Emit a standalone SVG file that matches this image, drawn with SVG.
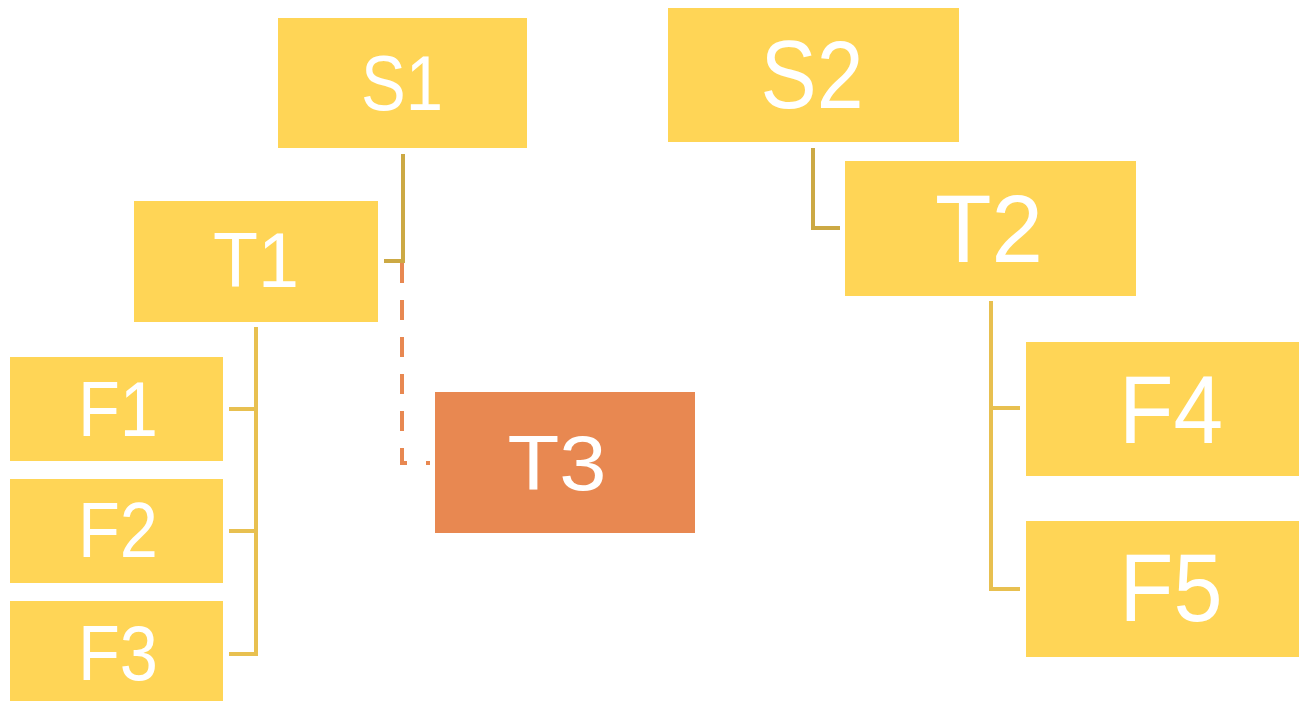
<svg xmlns="http://www.w3.org/2000/svg" width="1300" height="701" viewBox="0 0 1300 701">
<style>
.box{fill:#FFD556}
.t3{fill:#E88851}
.lbl{font-family:"Liberation Sans",Arial,sans-serif;fill:#FFFFFF;text-anchor:middle}
.s{font-size:78px}
.b{font-size:96px}
.c1{fill:none;stroke:#CCA944;stroke-width:4}
.c2{fill:none;stroke:#E8C050;stroke-width:4}
.c3{fill:none;stroke:#E88851;stroke-width:4;stroke-dasharray:20 17}
</style>
<g id="connectors">
<path class="c1" d="M403,154 V261 H384"/>
<path class="c3" d="M402,263 V463 H410"/>
<path class="c3" d="M426,463 H430" stroke-dasharray="none"/>
<path class="c1" d="M813,148 V228 H840"/>
<path class="c2" d="M256,327 V654 H229 M256,409 H229 M256,531 H229"/>
<path class="c2" d="M991,301 V589 H1020 M991,408 H1020"/>
</g>
<g id="S1"><rect class="box" x="278" y="18" width="249" height="130"/><text class="lbl s" x="402" y="110" textLength="82" lengthAdjust="spacingAndGlyphs">S1</text></g>
<g id="S2"><rect class="box" x="668" y="8" width="291" height="134"/><text class="lbl b" x="812" y="108" textLength="103" lengthAdjust="spacingAndGlyphs">S2</text></g>
<g id="T1"><rect class="box" x="134" y="201" width="244" height="121"/><text class="lbl s" x="256" y="287" textLength="86" lengthAdjust="spacingAndGlyphs">T1</text></g>
<g id="T2"><rect class="box" x="845" y="161" width="291" height="135"/><text class="lbl b" x="989" y="262" textLength="108" lengthAdjust="spacingAndGlyphs">T2</text></g>
<g id="T3"><rect class="t3" x="435" y="392" width="260" height="141"/><text class="lbl s" x="557" y="490" textLength="99" lengthAdjust="spacingAndGlyphs">T3</text></g>
<g id="F1"><rect class="box" x="10" y="357" width="213" height="104"/><text class="lbl s" x="118" y="436" textLength="80" lengthAdjust="spacingAndGlyphs">F1</text></g>
<g id="F2"><rect class="box" x="10" y="479" width="213" height="104"/><text class="lbl s" x="118" y="557" textLength="80" lengthAdjust="spacingAndGlyphs">F2</text></g>
<g id="F3"><rect class="box" x="10" y="601" width="213" height="100"/><text class="lbl s" x="118" y="680" textLength="80" lengthAdjust="spacingAndGlyphs">F3</text></g>
<g id="F4"><rect class="box" x="1026" y="342" width="273" height="134"/><text class="lbl b" x="1171" y="443" textLength="104" lengthAdjust="spacingAndGlyphs">F4</text></g>
<g id="F5"><rect class="box" x="1026" y="521" width="273" height="136"/><text class="lbl b" x="1171" y="621" textLength="103" lengthAdjust="spacingAndGlyphs">F5</text></g>
</svg>
